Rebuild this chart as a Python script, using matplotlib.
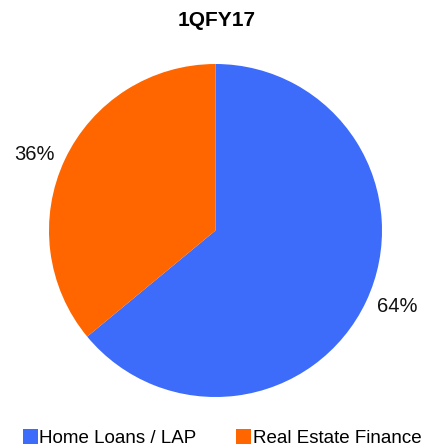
import matplotlib
matplotlib.use('Agg')
import numpy as np
import matplotlib.pyplot as plt

# data
labels = ['Home Loans / LAP', 'Real Estate Finance']
shares = [64, 36]
colors = ['#3d6bfa', '#ff6600']
title = '1QFY17'

plt.rcParams['font.family'] = ['Liberation Sans', 'DejaVu Sans']

fig = plt.figure(figsize=(4.21, 4.48), dpi=100)
W, H = 421, 448
cx, cy, r = 215.5, 448 - 230.5, 166.5
ax = fig.add_axes([(cx - r) / W, (cy - r) / H, 2 * r / W, 2 * r / H])

wedges, _ = ax.pie(shares, colors=colors, startangle=90, counterclock=False,
                   wedgeprops={'linewidth': 0})
ax.set_xlim(-1, 1)
ax.set_ylim(-1, 1)
ax.set_aspect('equal')

# percentage labels outside each slice
for w, s in zip(wedges, shares):
    ang = np.deg2rad((w.theta1 + w.theta2) / 2 + 2.5)
    ax.text(1.18 * np.cos(ang), 1.18 * np.sin(ang), f'{s}%', ha='center', va='center',
            fontsize=14.5, color='#111111')

fig.text(216.5 / W, 1 - 21 / H, title, ha='center', va='center',
         fontsize=15, fontweight='bold')

fig.legend(wedges, labels, loc='center', bbox_to_anchor=(222 / W, 1 - 438 / H),
           ncol=2, frameon=False, fontsize=13.5, handlelength=0.8, handleheight=0.8,
           handletextpad=0.1, columnspacing=2.1, borderpad=0)

fig.savefig('out.png', dpi=100)
